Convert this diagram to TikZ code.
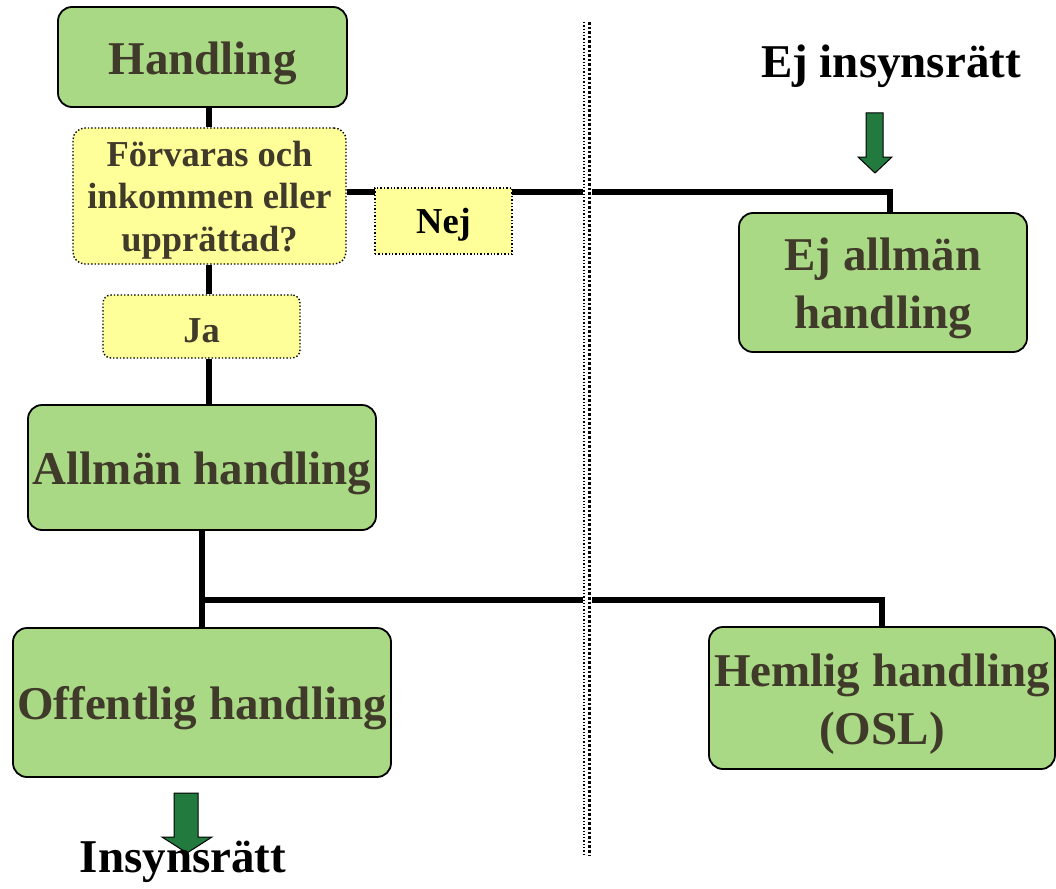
\documentclass[tikz,border=0pt]{standalone}
\usepackage{fontspec}
\setmainfont{Liberation Serif}
\usetikzlibrary{backgrounds}
\definecolor{gfill}{HTML}{AAD985}
\definecolor{yfill}{HTML}{FFFF99}
\definecolor{txt}{HTML}{403A2A}
\definecolor{agreen}{HTML}{237A3E}
\newcommand{\gst}{\rule{0pt}{45pt}}
\newcommand{\yst}{\rule{0pt}{33pt}}
\begin{document}
\begin{tikzpicture}[x=1pt,y=-1pt,
  gbox/.style={draw=black,line width=1.8pt,fill=gfill,rounded corners=14pt,
    text=txt,font=\fontsize{47}{58}\selectfont\bfseries,align=center,inner sep=0pt},
  ybox/.style={draw=black,line width=1.4pt,dotted,fill=yfill,rounded corners=12pt,
    text=txt,font=\fontsize{36.5}{42.5}\selectfont\bfseries,align=center,inner sep=0pt},
  conn/.style={line width=5.5pt,black},
  bigtxt/.style={font=\fontsize{47}{58}\selectfont\bfseries,text=black,inner sep=0pt},
  arr/.style={draw=black,line width=1pt,fill=agreen,line join=miter}]
\useasboundingbox (0,0) rectangle (1056,888);
% nodes
\node[gbox,minimum width=289pt,minimum height=100pt] (h) at (202.5,57) {\gst Handling};
\node[ybox,minimum width=273pt,minimum height=136pt] (q) at (209.5,196) {\yst Förvaras och\\inkommen eller\\upprättad?};
\node[ybox,minimum width=197pt,minimum height=63pt,rounded corners=8pt] (ja) at (201.5,326.5) {\yst Ja};
\node[gbox,minimum width=348pt,minimum height=125pt] (al) at (202,467.5) {\gst Allmän handling};
\node[gbox,minimum width=378pt,minimum height=149pt] (off) at (202,702.5) {\gst Offentlig handling};
\node[gbox,minimum width=346pt,minimum height=142pt] (hem) at (882,698) {\gst Hemlig handling\\(OSL)};
\node[gbox,minimum width=288pt,minimum height=139pt] (ea) at (883,282.5) {\gst Ej allmän\\handling};
\node[ybox,minimum width=137pt,minimum height=66pt,rounded corners=0pt,text=black] (nej) at (443.5,221) {\yst Nej};
% connectors (behind)
\coordinate (split) at (202,600);
\coordinate (nejend) at (890,192);
\begin{scope}[on background layer]
\draw[conn] (h.south -| 209,0) -- (q.north -| 209,0);
\draw[conn] (q.south -| 209,0) -- (ja.north -| 209,0);
\draw[conn] (ja.south -| 209,0) -- (al.north -| 209,0);
\draw[conn] (al.south) -- (off.north);
\draw[conn] (split) -| (hem.north);
\draw[conn] ([yshift=4pt]q.east) -- (nejend) -- (nejend |- ea.north);
\end{scope}
% divider
\fill[white] (583,22) rectangle (592,855);
\draw[line width=1.3pt,dotted] (584,22) -- (584,855);
\draw[line width=2.6pt,dotted] (589.5,22) -- (589.5,855);
% arrows and texts
\node[bigtxt] (ej) at (891,66) {Ej insynsrätt};
\draw[arr] (866,113) -- (883,113) -- (883,157) -- (892,157) -- (875,173) -- (858,157) -- (866,157) -- cycle;
\draw[arr] (174,793) -- (198,793) -- (198,837) -- (212,837) -- (187,853) -- (162,837) -- (174,837) -- cycle;
\node[bigtxt] (ins) at (183,862) {Insynsrätt};
\end{tikzpicture}
\end{document}
